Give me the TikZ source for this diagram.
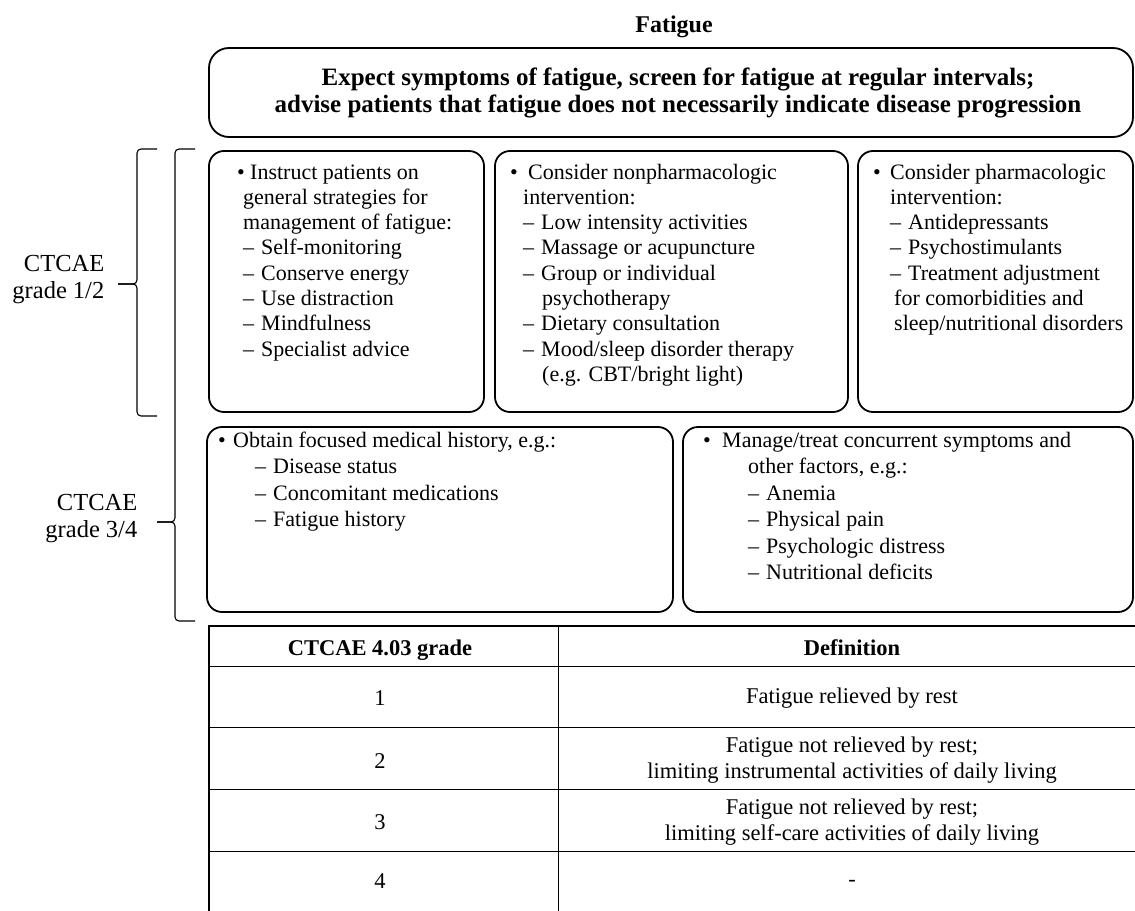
\documentclass[tikz,border=0pt]{standalone}
\usepackage{fontspec}
\setmainfont{Liberation Serif}
\newcommand{\TLine}[2]{\hbox{\hspace*{#1bp}#2}}
\newcommand{\BLine}[3]{\hbox{\hspace*{#1bp}\makebox[#2bp][l]{\textbullet}#3}}
\newcommand{\DLine}[3]{\hbox{\hspace*{#1bp}\makebox[#2bp][l]{--}#3}}
\newcommand{\CLine}[1]{\hbox to 0pt{\hss #1\hss}}
\newcommand{\RLine}[1]{\hbox to 0pt{\hss #1}}
\newcommand{\TBlock}[2]{\vtop{\baselineskip=#1bp\lineskiplimit=-1000pt\lineskip=0pt #2}}
\begin{document}
\begin{tikzpicture}[x=1bp,y=-1bp,
  rbox/.style={draw,line width=1.8bp,rounded corners=15bp,inner sep=0pt},
  txt/.style={anchor=base west,inner sep=0pt,font=\fontsize{22bp}{25bp}\selectfont},
  ttxt/.style={anchor=base,inner sep=0pt,font=\fontsize{22.5bp}{26bp}\selectfont},
  lbl/.style={anchor=base east,inner sep=0pt,font=\fontsize{24.5bp}{27bp}\selectfont},
  brace/.style={line width=1.1bp,rounded corners=4bp},
  tline/.style={line width=1bp},
  tborder/.style={line width=2.2bp}]
\useasboundingbox (0,0) rectangle (1135,911);
\clip (0,0) rectangle (1135,911);

% title
\node[anchor=base,inner sep=0pt,font=\bfseries\fontsize{24bp}{28bp}\selectfont] (title) at (674,32) {Fatigue};

% top box
\node[rbox,rounded corners=20bp,minimum width=924bp,minimum height=89bp] (top) at (671,92.5) {};
\node[anchor=base,inner sep=0pt,font=\bfseries\fontsize{25bp}{27bp}\selectfont] (toptxt) at (678,85)
  {\TBlock{27}{\CLine{Expect symptoms of fatigue, screen for fatigue at regular intervals;}\CLine{advise patients that fatigue does not necessarily indicate disease progression}}};

% row 1 boxes
\node[rbox,minimum width=275bp,minimum height=261bp] (b1) at (346.5,281.5) {};
\node[rbox,minimum width=353bp,minimum height=261bp] (b2) at (671.5,281.5) {};
\node[rbox,minimum width=275bp,minimum height=261bp] (b3) at (995.5,281.5) {};

\node[txt] (t1) at (209,179) {\TBlock{25.3}{%
  \BLine{28}{13}{Instruct patients on}%
  \TLine{34}{general strategies for}%
  \TLine{34}{management of fatigue:}%
  \DLine{34}{18}{Self-monitoring}%
  \DLine{34}{18}{Conserve energy}%
  \DLine{34}{18}{Use distraction}%
  \DLine{34}{18}{Mindfulness}%
  \DLine{34}{18}{Specialist advice}}};

\node[txt] (t2) at (495,179) {\TBlock{25.3}{%
  \BLine{15}{18}{Consider nonpharmacologic}%
  \TLine{28}{intervention:}%
  \DLine{28}{18}{Low intensity activities}%
  \DLine{28}{18}{Massage or acupuncture}%
  \DLine{28}{18}{Group or individual}%
  \TLine{47}{psychotherapy}%
  \DLine{28}{18}{Dietary consultation}%
  \DLine{28}{18}{Mood/sleep disorder therapy}%
  \TLine{47}{(e.g. CBT/bright light)}}};

\node[txt] (t3) at (858,179) {\TBlock{25.3}{%
  \BLine{15}{17}{Consider pharmacologic}%
  \TLine{32}{intervention:}%
  \DLine{32}{18}{Antidepressants}%
  \DLine{32}{18}{Psychostimulants}%
  \DLine{32}{18}{Treatment adjustment}%
  \TLine{36}{for comorbidities and}%
  \TLine{36}{sleep/nutritional disorders}}};

% row 2 boxes
\node[rbox,minimum width=466bp,minimum height=185bp] (b4) at (440,519.5) {};
\node[rbox,minimum width=450bp,minimum height=185bp] (b5) at (908,519.5) {};

\node[txt] (t4) at (207,447) {\TBlock{26.5}{%
  \BLine{11}{15}{Obtain focused medical history, e.g.:}%
  \DLine{48}{18}{Disease status}%
  \DLine{48}{18}{Concomitant medications}%
  \DLine{48}{18}{Fatigue history}}};

\node[txt] (t5) at (683,447) {\TBlock{26.5}{%
  \BLine{20}{19}{Manage/treat concurrent symptoms and}%
  \TLine{65}{other factors, e.g.:}%
  \DLine{65}{18}{Anemia}%
  \DLine{65}{18}{Physical pain}%
  \DLine{65}{18}{Psychologic distress}%
  \DLine{65}{18}{Nutritional deficits}}};

% braces and labels
\draw[brace] (157,149) -- (137,149) -- (137,284) -- (118,284);
\draw[brace] (157,416) -- (137,416) -- (137,284) -- (118,284);
\draw[brace] (195,149) -- (175,149) -- (175,522) -- (157,522);
\draw[brace] (195,621) -- (175,621) -- (175,522) -- (157,522);
\node[lbl] (g12) at (105,271) {\TBlock{27}{\RLine{CTCAE}\RLine{grade 1/2}}};
\node[lbl] (g34) at (138,510) {\TBlock{27}{\RLine{CTCAE}\RLine{grade 3/4}}};

% table
\draw[tline] (558,626) -- (558,915);
\foreach \yy in {666,727,789,851} \draw[tline] (209,\yy) -- (1150,\yy);
\draw[tborder] (1150,626) -- (209,626) -- (209,915);

\node[ttxt,font=\bfseries\fontsize{22.5bp}{26bp}\selectfont] (h1) at (380,655) {CTCAE 4.03 grade};
\node[ttxt,font=\bfseries\fontsize{22.5bp}{26bp}\selectfont] (h2) at (852,655) {Definition};
\node[ttxt] (g1) at (380,705) {1};
\node[ttxt] (g2) at (380,768) {2};
\node[ttxt] (g3) at (380,829) {3};
\node[ttxt] (g4) at (380,888) {4};
\node[ttxt] (d1) at (852,703) {Fatigue relieved by rest};
\node[ttxt] (d2) at (852,752) {\TBlock{26}{\CLine{Fatigue not relieved by rest;}\CLine{limiting instrumental activities of daily living}}};
\node[ttxt] (d3) at (852,814) {\TBlock{26}{\CLine{Fatigue not relieved by rest;}\CLine{limiting self-care activities of daily living}}};
\node[ttxt] (d4) at (852,886) {-};
\end{tikzpicture}
\end{document}
